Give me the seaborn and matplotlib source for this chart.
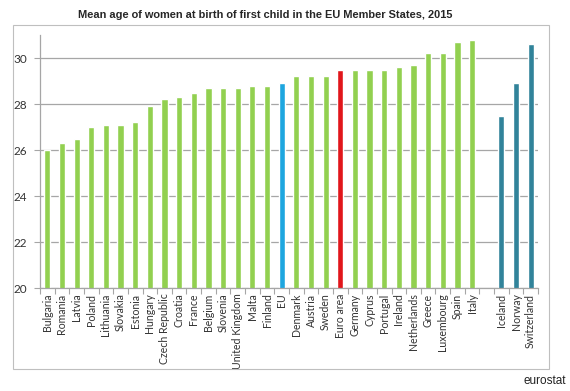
import numpy as np
import pandas as pd
import seaborn as sns
import matplotlib
matplotlib.use("Agg")
import matplotlib.pyplot as plt
from matplotlib.patches import Rectangle
from matplotlib.ticker import FixedLocator, NullFormatter

categories = ["Bulgaria", "Romania", "Latvia", "Poland", "Lithuania", "Slovakia", "Estonia",
              "Hungary", "Czech Republic", "Croatia", "France", "Belgium", "Slovenia",
              "United Kingdom", "Malta", "Finland", "EU", "Denmark", "Austria", "Sweden",
              "Euro area", "Germany", "Cyprus", "Portugal", "Ireland", "Netherlands", "Greece",
              "Luxembourg", "Spain", "Italy", " ", "Iceland", "Norway", "Switzerland"]
values = [26.0, 26.3, 26.5, 27.0, 27.1, 27.1, 27.2,
          27.9, 28.2, 28.3, 28.5, 28.7, 28.7,
          28.7, 28.8, 28.8, 28.9, 29.2, 29.2, 29.2,
          29.5, 29.5, 29.5, 29.5, 29.6, 29.7, 30.2,
          30.2, 30.7, 30.8, np.nan, 27.5, 28.9, 30.6]
groups = ["member"] * 16 + ["eu"] + ["member"] * 3 + ["euro"] + ["member"] * 9 + ["gap"] + ["efta"] * 3
yticks = [20, 22, 24, 26, 28, 30]

group_colors = {"member": "#92D050", "eu": "#1EA6DF", "euro": "#E1161B", "efta": "#31839A", "gap": "#FFFFFF"}

df = pd.DataFrame({"country": categories, "age": values, "group": groups})
palette = {c: group_colors[g] for c, g in zip(categories, groups)}

sns.set_style("white")
plt.rcParams["font.family"] = ["Lato", "DejaVu Sans"]

fig = plt.figure(figsize=(5.7, 3.91), dpi=100)
# outer frame
fig.patches.append(Rectangle((13 / 570, 1 - 369 / 391), (549 - 13) / 570, (369 - 25) / 391,
                             transform=fig.transFigure, fill=False, edgecolor="#BFBFBF", linewidth=0.8))
ax = fig.add_axes([40 / 570, 1 - 288 / 391, (538 - 40) / 570, (288 - 35) / 391])

sns.barplot(data=df, x="country", y="age", hue="country", palette=palette, legend=False,
            width=0.42, ax=ax, order=categories, saturation=1)

ax.set_ylim(20, 31)
ax.set_xlim(-0.5, len(categories) - 0.5)
ax.set_yticks(yticks)
ax.set_yticklabels([str(t) for t in yticks], fontsize=8.5, color="#333333")
ax.yaxis.grid(True, color="#A6A6A6", linewidth=0.9)
ax.set_axisbelow(True)
ax.set_xlabel("")
ax.set_ylabel("")
ax.set_xticks(range(len(categories)))
ax.set_xticklabels(categories, rotation=90, fontsize=7.6, color="#333333")
ax.tick_params(axis="x", which="major", length=0, pad=4)
ax.xaxis.set_minor_locator(FixedLocator(np.arange(-0.5, len(categories), 1.0)))
ax.xaxis.set_minor_formatter(NullFormatter())
ax.tick_params(axis="x", which="minor", length=4, color="#A6A6A6", width=0.8, bottom=True)
ax.tick_params(axis="y", which="major", length=4, color="#A6A6A6", width=0.8, left=True, pad=5)
for s in ["top", "right"]:
    ax.spines[s].set_visible(False)
for s in ["left", "bottom"]:
    ax.spines[s].set_color("#A6A6A6")
    ax.spines[s].set_linewidth(0.9)

fig.text(0.465, 1 - 15 / 391, "Mean age of women at birth of first child in the EU Member States, 2015",
         ha="center", va="center", fontsize=7.9, fontweight="bold", family=["Liberation Sans", "DejaVu Sans"])
fig.text(566 / 570, 1 - 381 / 391, "eurostat", ha="right", va="center", fontsize=8.5,
         color="#222222", family=["Liberation Sans", "DejaVu Sans"])

fig.savefig("out.png", dpi=100, facecolor="white")
